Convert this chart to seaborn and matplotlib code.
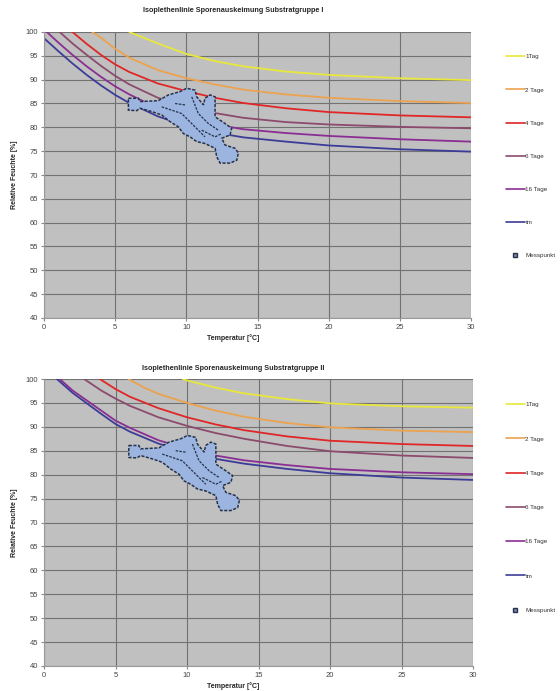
import pandas as pd
import numpy as np
import matplotlib.pyplot as plt
import seaborn as sns
from matplotlib.lines import Line2D

# --- Substratgruppe I ---
t_1tag_I = [6.0, 7, 8, 10, 12, 14, 17, 20, 25, 30]
rh_1tag_I = [100, 98.8, 97.6, 95.4, 93.9, 92.8, 91.7, 91.0, 90.3, 89.9]
t_2tage_I = [3.4, 4, 5, 6, 8, 10, 12, 14, 17, 20, 25, 30]
rh_2tage_I = [100, 98.8, 96.5, 94.6, 92.0, 90.3, 89.0, 87.9, 86.9, 86.2, 85.5, 85.1]
t_4tage_I = [2.0, 3, 4, 5, 6, 8, 10, 12, 14, 17, 20, 25, 30]
rh_4tage_I = [100, 97.5, 95.2, 93.2, 91.6, 89.2, 87.6, 86.2, 85.1, 84.0, 83.2, 82.5, 82.1]
t_6tage_I = [1.1, 2, 3, 4, 5, 6, 8, 10, 12, 14, 17, 20, 25, 30]
rh_6tage_I = [100, 97.6, 95.2, 92.9, 90.8, 89.0, 86.2, 84.3, 83.0, 82.0, 81.1, 80.6, 80.1, 79.8]
t_16tage_I = [0.2, 1, 2, 3, 4, 5, 6, 8, 10, 12, 14, 17, 20, 25, 30]
rh_16tage_I = [100, 97.8, 95.2, 92.8, 90.6, 88.6, 86.9, 84.0, 82.0, 80.6, 79.6, 78.8, 78.2, 77.5, 77.0]
t_tm_I = [0, 1, 2, 3, 4, 5, 6, 8, 10, 12, 14, 17, 20, 25, 30]
rh_tm_I = [98.7, 96.0, 93.4, 91.0, 88.8, 86.8, 85.1, 82.3, 80.3, 78.9, 77.9, 77.0, 76.2, 75.4, 74.9]

# --- Substratgruppe II ---
t_1tag_II = [9.7, 10, 12, 14, 17, 20, 25, 30]
rh_1tag_II = [100, 99.7, 98.2, 97.0, 95.8, 94.9, 94.3, 94.0]
t_2tage_II = [5.9, 7, 8, 10, 12, 14, 17, 20, 25, 30]
rh_2tage_II = [100, 98.2, 96.9, 95.0, 93.4, 92.1, 90.8, 89.9, 89.2, 88.9]
t_4tage_II = [3.9, 5, 6, 8, 10, 12, 14, 17, 20, 25, 30]
rh_4tage_II = [100, 97.9, 96.3, 93.9, 92.0, 90.5, 89.3, 88.0, 87.1, 86.4, 86.0]
t_6tage_II = [2.8, 4, 5, 6, 8, 10, 12, 14, 17, 20, 25, 30]
rh_6tage_II = [100, 97.6, 95.9, 94.4, 92.0, 90.2, 88.7, 87.5, 86.0, 84.9, 84.0, 83.5]
t_16tage_II = [1.1, 2, 3, 4, 5, 6, 8, 10, 12, 14, 17, 20, 25, 30]
rh_16tage_II = [100, 97.6, 95.5, 93.4, 91.3, 89.8, 87.2, 85.4, 84.0, 83.0, 82.0, 81.2, 80.5, 80.1]
t_tm_II = [0.9, 2, 3, 4, 5, 6, 8, 10, 12, 14, 17, 20, 25, 30]
rh_tm_II = [100, 97.1, 94.9, 92.7, 90.6, 89.0, 86.5, 84.7, 83.3, 82.3, 81.2, 80.3, 79.4, 78.9]

# --- Messpunkte (outline of the measured point cloud) ---
messpunkt_t = [5.93, 6.63, 6.75, 8.03, 8.74, 9.56, 10.03, 10.61, 10.73, 11.2, 11.31, 11.67, 12.02,
               12.02, 12.02, 12.72, 13.19, 13.07, 12.49, 12.72, 13.42, 13.66, 13.54, 13.07, 12.37,
               12.14, 12.02, 11.31, 10.73, 10.26, 9.79, 9.44, 8.85, 8.27, 7.57, 6.75, 6.51, 5.93]
messpunkt_rh = [86.1, 86.1, 85.4, 85.6, 86.8, 87.5, 88.2, 87.8, 86.4, 84.7, 86.1, 86.8, 86.4,
                83.6, 82.2, 80.8, 79.8, 78.4, 77.7, 76.3, 75.6, 74.6, 73.1, 72.5, 72.5,
                73.8, 75.6, 76.6, 77.0, 78.0, 78.7, 80.1, 81.2, 82.6, 83.3, 84.0, 83.5, 83.6]
falten_t = [[8.27, 9.67, 10.61, 11.31], [10.38, 10.84, 11.55, 12.25], [9.21, 9.91], [11.08, 12.02, 12.49]]
falten_rh = [[84.3, 82.9, 80.1, 78.0], [86.4, 82.9, 80.8, 79.4], [85.0, 84.7], [79.4, 78.0, 78.7]]

kurven = ['1Tag', '2 Tage', '4 Tage', '6 Tage', '16 Tage', 'tm']
farben = {'1Tag': '#e8e83c', '2 Tage': '#eca24e', '4 Tage': '#e02626',
          '6 Tage': '#8c4a6c', '16 Tage': '#8a2e94', 'tm': '#3c3c98'}

data_I = [(t_1tag_I, rh_1tag_I), (t_2tage_I, rh_2tage_I), (t_4tage_I, rh_4tage_I),
          (t_6tage_I, rh_6tage_I), (t_16tage_I, rh_16tage_I), (t_tm_I, rh_tm_I)]
data_II = [(t_1tag_II, rh_1tag_II), (t_2tage_II, rh_2tage_II), (t_4tage_II, rh_4tage_II),
           (t_6tage_II, rh_6tage_II), (t_16tage_II, rh_16tage_II), (t_tm_II, rh_tm_II)]


def make_df(data):
    frames = []
    for name, (t, rh) in zip(kurven, data):
        frames.append(pd.DataFrame({'Temperatur': t, 'Feuchte': rh, 'Kurve': name}))
    return pd.concat(frames, ignore_index=True)


sns.set_style('white')
plt.rcParams['font.family'] = ['Liberation Sans', 'DejaVu Sans']

fig = plt.figure(figsize=(5.6, 6.91), dpi=100)

panels = [
    (data_I, [44 / 560, 1 - 318 / 691, 427 / 560, 286 / 691], 'I', 10, 338, 58, 4.45),
    (data_II, [44 / 560, 1 - 666 / 691, 429 / 560, 287 / 691], 'II', 368, 686, 406, 4.62),
]

for data, rect, gruppe, y_title, y_xlabel, y_leg, spacing in panels:
    ax = fig.add_axes(rect)
    ax.set_facecolor('#c0c0c0')
    df = make_df(data)
    sns.lineplot(data=df, x='Temperatur', y='Feuchte', hue='Kurve', palette=farben,
                 hue_order=kurven, sort=False, legend=False, linewidth=1.3, ax=ax)

    ax.fill(messpunkt_t, messpunkt_rh, facecolor='#9bb4e0', edgecolor='#27324a',
            linewidth=1.1, linestyle=(0, (2, 1)), zorder=4)
    for ft, frh in zip(falten_t, falten_rh):
        ax.plot(ft, frh, color='#27324a', linewidth=0.9, linestyle=(0, (2, 1)), zorder=5)

    ax.set_xlim(0, 30)
    ax.set_ylim(40, 100)
    ax.set_xticks(range(0, 31, 5))
    ax.set_yticks(range(40, 101, 5))
    ax.grid(True, color='#727272', linewidth=0.8)
    ax.set_axisbelow(True)
    ax.tick_params(labelsize=5.5, labelcolor='#444444', length=2, color='#888888', pad=2,
                   bottom=True, left=True)
    for side in ['top', 'right']:
        ax.spines[side].set_visible(False)
    for side in ['left', 'bottom']:
        ax.spines[side].set_color('#999999')
        ax.spines[side].set_linewidth(0.8)
    ax.set_xlabel('')
    ax.set_ylabel('Relative Feuchte [%]', fontsize=5, fontweight='bold', labelpad=6)

    fig.text(233 / 560, 1 - y_title / 691, 'Isoplethenlinie Sporenauskeimung Substratgruppe ' + gruppe,
             ha='center', va='center', fontsize=5.2, fontweight='bold')
    fig.text(233 / 560, 1 - y_xlabel / 691, 'Temperatur [°C]', ha='center', va='center',
             fontsize=5, fontweight='bold')

    handles = [Line2D([], [], color=farben[k], linewidth=1.2) for k in kurven]
    handles.append(Line2D([], [], linestyle='none', marker='s', markersize=2.5,
                          markerfacecolor='#6f86b4', markeredgecolor='#2a3348'))
    labels = kurven + ['Messpunkt']
    fig.legend(handles, labels, loc='upper left', bbox_to_anchor=(506 / 560, 1 - (y_leg - 4) / 691),
               frameon=False, fontsize=4.5, labelspacing=spacing, handlelength=3.0,
               handletextpad=0.1, borderpad=0, borderaxespad=0, labelcolor='#333333')

plt.savefig('out.png', dpi=100)
